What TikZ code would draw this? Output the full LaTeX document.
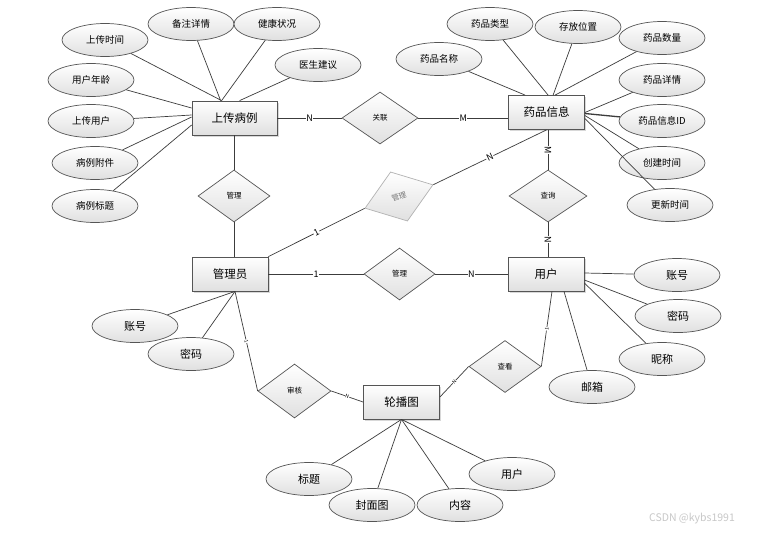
\documentclass[tikz,border=0pt]{standalone}
\usepackage{fontspec}
\usepackage{tikz}
\usetikzlibrary{shapes.geometric, shadows, calc}
\newfontfamily\cjk{Noto Sans CJK SC}
\definecolor{mydark}{RGB}{60,60,60}
\definecolor{myedge}{RGB}{85,85,85}
\definecolor{myshade}{RGB}{224,224,224}
\definecolor{myfaint}{RGB}{178,178,178}
\definecolor{myfainttext}{RGB}{120,120,120}
\definecolor{mymark}{RGB}{200,200,200}
\tikzset{
  entity/.style={rectangle, draw=myedge, top color=white, bottom color=myshade,
    minimum width=76pt, minimum height=34pt, inner sep=0pt,
    font=\cjk\fontsize{11.5}{12}\selectfont, line width=0.8pt,
    drop shadow={shadow xshift=1.6pt, shadow yshift=-1.6pt, fill=black!30, opacity=0.5}},
  attr/.style={ellipse, draw=myedge, top color=white, bottom color=myshade,
    minimum width=86pt, minimum height=33pt, inner sep=0pt,
    font=\cjk\fontsize{9.5}{10}\selectfont, line width=0.7pt},
  bigattr/.style={attr, font=\cjk\fontsize{11}{12}\selectfont},
  relation/.style={diamond, aspect=1.4, draw=myedge, top color=white, bottom color=myshade,
    minimum width=74pt, minimum height=52pt, inner sep=0pt,
    font=\cjk\fontsize{7.5}{8}\selectfont, line width=0.7pt},
  ghostrel/.style={relation, draw=myfaint, text=myfainttext, rotate=19},
  conn/.style={draw=mydark, line width=0.7pt},
  cardlbl/.style={fill=white, inner sep=0.6pt, font=\cjk\fontsize{9}{9}\selectfont},
  tinylbl/.style={fill=white, inner sep=0.3pt, font=\cjk\fontsize{5}{5}\selectfont, sloped}
}

\begin{document}
\begin{tikzpicture}[x=1pt, y=-1pt]
  \path[fill=white] (0,0) rectangle (760,536);

  % --- Entities ---
  \node[entity, minimum width=85pt] (upload) at (234.5,118) {上传病例};
  \node[entity] (drug) at (546.5,112.5) {药品信息};
  \node[entity] (admin) at (230,274) {管理员};
  \node[entity] (user) at (546,274) {用户};
  \node[entity] (carousel) at (401.5,402) {轮播图};

  % --- Relations ---
  \node[relation, minimum width=76pt] (relate) at (380,118) {关联};
  \node[relation, minimum width=72pt] (manageup) at (234,196) {管理};
  \node[relation, minimum width=78pt] (query) at (548,196) {查询};
  \node[ghostrel, minimum width=72pt] (managedrug) at (399,196.5) {管理};
  \node[relation, minimum width=71pt] (manageuser) at (399.5,274) {管理};
  \node[relation, minimum width=73pt, minimum height=54pt] (audit) at (294.5,391) {审核};
  \node[relation, minimum width=72pt] (view) at (505,366.5) {查看};

  % --- Attributes: 上传病例 ---
  \node[attr] (uptime) at (105,40) {上传时间};
  \node[attr] (remark) at (191,24) {备注详情};
  \node[attr] (health) at (277,24) {健康状况};
  \node[attr] (advice) at (318,65) {医生建议};
  \node[attr] (age) at (91,80) {用户年龄};
  \node[attr] (upuser) at (91,121) {上传用户};
  \node[attr] (attach) at (95,163) {病例附件};
  \node[attr] (title) at (95,206) {病例标题};

  % --- Attributes: 药品信息 ---
  \node[attr] (dname) at (439,59) {药品名称};
  \node[attr] (dtype) at (490,24) {药品类型};
  \node[attr] (place) at (578,27) {存放位置};
  \node[attr] (amount) at (662,38) {药品数量};
  \node[attr] (detail) at (662,80) {药品详情};
  \node[attr] (drugid) at (662,121) {药品信息ID};
  \node[attr] (created) at (662,163) {创建时间};
  \node[attr] (updated) at (670,205) {更新时间};

  % --- Attributes: 用户, 管理员, 轮播图 ---
  \node[bigattr] (uacct) at (677,275) {账号};
  \node[bigattr] (upwd) at (678,316) {密码};
  \node[bigattr] (nick) at (662,359) {昵称};
  \node[bigattr] (mail) at (592,387) {邮箱};
  \node[bigattr] (aacct) at (135,326) {账号};
  \node[bigattr] (apwd) at (191,354) {密码};
  \node[bigattr] (ctitle) at (309,479) {标题};
  \node[bigattr] (cover) at (372,505) {封面图};
  \node[bigattr] (content) at (460,505) {内容};
  \node[bigattr] (cuser) at (512,474) {用户};

  % --- Attribute lines ---
  \draw[conn] (uptime) -- ($(upload.north west)+(30,0)$);
  \draw[conn] (remark) -- ($(upload.north west)+(29,0)$);
  \draw[conn] (health) -- ($(upload.north west)+(30,0)$);
  \draw[conn] (advice) -- ($(upload.north west)+(48,0)$);
  \draw[conn] (age) -- ($(upload.west)+(0,-10)$);
  \draw[conn] (upuser) -- ($(upload.west)+(0,-3)$);
  \draw[conn] (attach) -- ($(upload.west)+(0,-1)$);
  \draw[conn] (title) -- ($(upload.west)+(0,7)$);

  \draw[conn] (dname) -- ($(drug.north west)+(17,0)$);
  \draw[conn] (dtype) -- ($(drug.north west)+(40,0)$);
  \draw[conn] (place) -- ($(drug.north west)+(45,0)$);
  \draw[conn] (amount) -- ($(drug.north west)+(47,0)$);
  \draw[conn] (detail) -- (drug.east);
  \draw[conn, line width=1.3pt] (drugid) -- ($(drug.east)+(0,1)$); % darker
  \draw[conn] (created) -- ($(drug.east)+(0,3)$);
  \draw[conn] (updated) -- ($(drug.east)+(0,6)$);

  \draw[conn] (uacct) -- ($(user.east)+(0,-1)$);
  \draw[conn] (upwd) -- ($(user.east)+(0,6)$);
  \draw[conn] (nick) -- ($(user.east)+(0,9)$);
  \draw[conn] (mail) -- ($(user.south)+(18,0)$);

  \draw[conn] (aacct) -- ($(admin.south)+(5,0)$);
  \draw[conn] (apwd) -- ($(admin.south)+(5,0)$);

  \draw[conn] (ctitle) -- (carousel.south);
  \draw[conn] (cover) -- (carousel.south);
  \draw[conn] (content) -- (carousel.south);
  \draw[conn] (cuser) -- (carousel.south);

  % --- Relation lines ---
  \draw[conn] (upload.east) -- node[cardlbl] {N} (relate.west);
  \draw[conn] (relate.east) -- node[cardlbl] {M} (relate.east -| drug.west);
  \draw[conn] (drug.south -| query) -- node[cardlbl, sloped] {M} (query.north);
  \draw[conn] (query.south) -- node[cardlbl, sloped] {N} (query.south |- user.north);
  \draw[conn] (upload.south -| manageup) -- (manageup.north);
  \draw[conn] (manageup.south) -- (manageup.south |- admin.north);
  \draw[conn] (admin.north east) -- node[cardlbl, sloped] {1} (managedrug.west);
  \draw[conn] (managedrug.east) -- node[cardlbl, sloped] {N} (drug.south);
  \draw[conn] (admin.east) -- node[cardlbl] {1} (manageuser.west);
  \draw[conn] (manageuser.east) -- node[cardlbl] {N} (user.west);
  \draw[conn] ($(admin.south)+(5,0)$) -- node[tinylbl] {1} (audit.west);
  \draw[conn] (audit.east) -- node[tinylbl] {N} (carousel.west);
  \draw[conn] ($(carousel.east)+(0,-5)$) -- node[tinylbl] {N} (view.west);
  \draw[conn] (view.east) -- node[tinylbl] {1} ($(user.south)+(6,0)$);

  \node[font=\cjk\fontsize{10.5}{11}\selectfont, text=mymark] (mark) at (692,519) {CSDN @kybs1991};
\end{tikzpicture}
\end{document}
